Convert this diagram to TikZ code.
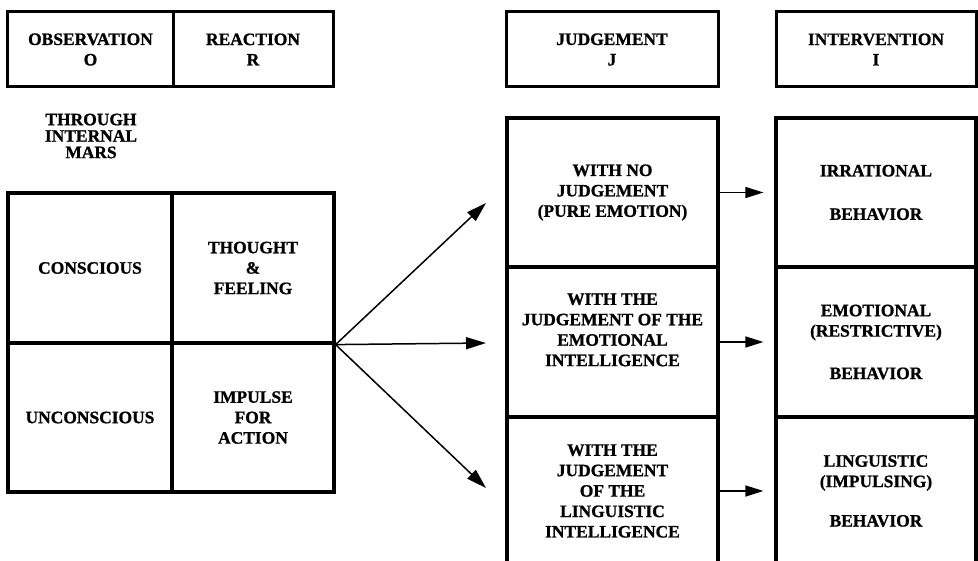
\documentclass[tikz,border=0pt]{standalone}
\usepackage{fontspec}
\setmainfont{Liberation Serif}[BoldFeatures={FakeBold=1}]
\usetikzlibrary{arrows.meta}
\begin{document}
\begin{tikzpicture}[x=1bp,y=-1bp,
  txt/.style={font=\fontsize{17.5}{20.5}\selectfont\bfseries, align=center, inner sep=0pt},
  hdr/.style={txt, draw, line width=3bp, minimum width=#1, minimum height=75bp},
  cell/.style={txt, draw, line width=3.2bp, minimum width=#1, minimum height=150bp},
  bigarrow/.style={line width=1.5bp, -{Triangle[length=20bp,width=12bp]}},
  smallarrow/.style={line width=1.5bp, -{Triangle[length=18bp,width=11bp]}, shorten >=11bp}]
\useasboundingbox (0,0) rectangle (978,561);
% headers
\node[hdr=165bp] (obs) at (90.5,49.5) {OBSERVATION\\O};
\node[hdr=160bp] (rea) at (253,49.5) {REACTION\\R};
\node[hdr=212bp] (jud) at (612,49.5) {JUDGEMENT\\J};
\node[hdr=200bp] (int) at (876,49.5) {INTERVENTION\\I};
% through internal mars
\node[txt, font=\fontsize{17.5}{16.5}\selectfont\bfseries] (thr) at (91,136) {THROUGH\\INTERNAL\\MARS};
% left grid
\node[cell=164bp, minimum height=150bp] (con) at (90,268) {CONSCIOUS};
\node[cell=162bp, minimum height=150bp] (tho) at (253,268) {THOUGHT\\\&\\FEELING};
\node[cell=164bp, minimum height=149bp] (unc) at (90,417.5) {UNCONSCIOUS};
\node[cell=162bp, minimum height=149bp] (imp) at (253,417.5) {IMPULSE\\FOR\\ACTION};
% judgement column
\node[cell=211bp, minimum height=149bp] (j1) at (612.5,192.5) {WITH NO\\JUDGEMENT\\(PURE EMOTION)};
\node[cell=211bp, minimum height=150bp] (j2) at (612.5,342) {WITH THE\\JUDGEMENT OF THE\\EMOTIONAL\\INTELLIGENCE\\[4bp]\mbox{}};
\node[cell=211bp, minimum height=148bp] (j3) at (612.5,491) {WITH THE\\JUDGEMENT\\OF THE\\LINGUISTIC\\INTELLIGENCE};
% intervention column
\node[cell=200bp, minimum height=149bp] (i1) at (876,192.5) {IRRATIONAL\\[23bp]BEHAVIOR};
\node[cell=200bp, minimum height=150bp] (i2) at (876,342) {EMOTIONAL\\(RESTRICTIVE)\\[22bp]BEHAVIOR};
\node[cell=200bp, minimum height=148bp] (i3) at (876,491) {LINGUISTIC\\(IMPULSING)\\[19bp]BEHAVIOR};
% big arrows
\coordinate (src) at (tho.south east);
\coordinate (t1) at (486,203);
\coordinate (t2) at (486,343);
\coordinate (t3) at (486,488);
\draw[bigarrow] (src) -- (t1);
\draw[bigarrow] (src) -- (t2);
\draw[bigarrow] (src) -- (t3);
% small arrows
\draw[smallarrow] (j1.east) -- (i1.west);
\draw[smallarrow] (j2.east) -- (i2.west);
\draw[smallarrow] (j3.east) -- (i3.west);
\end{tikzpicture}
\end{document}
